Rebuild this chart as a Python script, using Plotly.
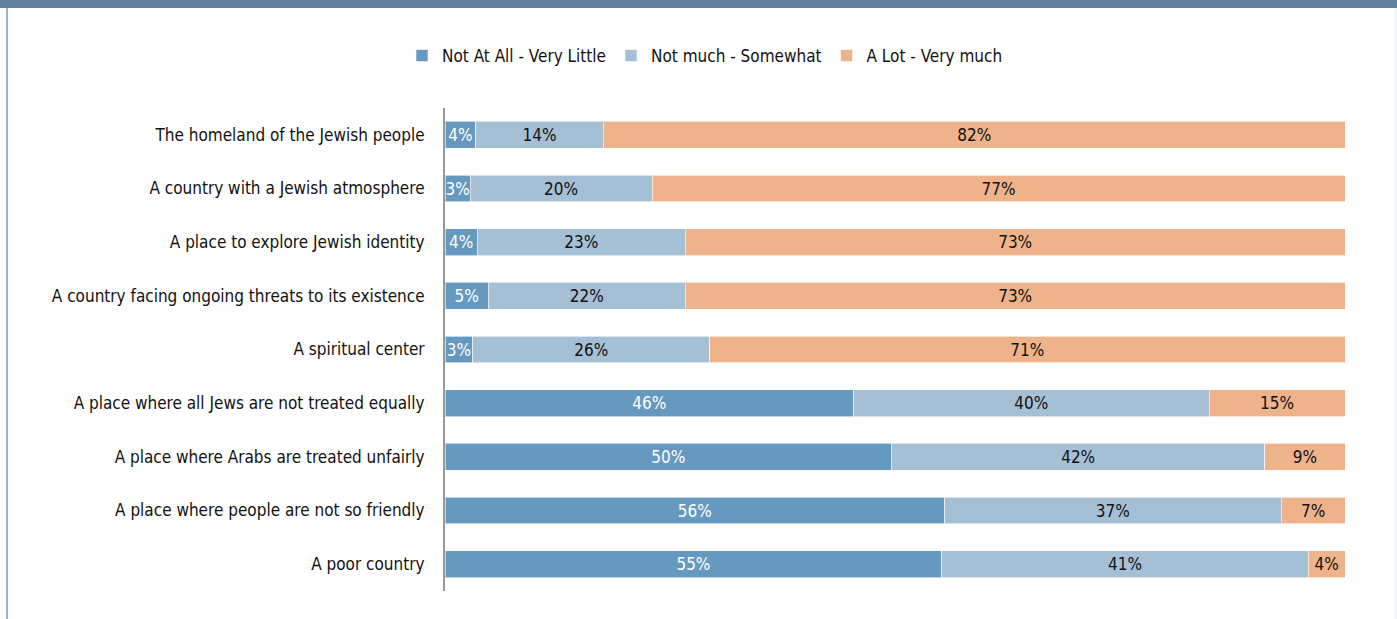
import plotly.graph_objects as go

categories = [
    "The homeland of the Jewish people",
    "A country with a Jewish atmosphere",
    "A place to explore Jewish identity",
    "A country facing ongoing threats to its existence",
    "A spiritual center",
    "A place where all Jews are not treated equally",
    "A place where Arabs are treated unfairly",
    "A place where people are not so friendly",
    "A poor country",
]
# bar lengths (share of each row, %)
not_at_all = [3.4, 2.8, 3.6, 4.8, 3.1, 45.4, 49.6, 55.5, 55.2]
not_much = [14.2, 20.2, 23.1, 21.9, 26.3, 39.5, 41.5, 37.4, 40.7]
a_lot = [82.4, 77.0, 73.3, 73.3, 70.6, 15.1, 8.9, 7.1, 4.1]
# printed labels
not_at_all_lbl = [4, 3, 4, 5, 3, 46, 50, 56, 55]
not_much_lbl = [14, 20, 23, 22, 26, 40, 42, 37, 41]
a_lot_lbl = [82, 77, 73, 73, 71, 15, 9, 7, 4]

series = [
    ("Not At All - Very Little", not_at_all, not_at_all_lbl, "#6699BF", "white"),
    ("Not much - Somewhat", not_much, not_much_lbl, "#A5BFD5", "#111111"),
    ("A Lot - Very much", a_lot, a_lot_lbl, "#EEB38A", "#111111"),
]

FONT = "DejaVu Sans Condensed, Liberation Sans Narrow, Arial Narrow, sans-serif"
FS = 17

fig = go.Figure()
for name, vals, lbls, color, tcolor in series:
    fig.add_trace(go.Bar(
        name=name, y=categories, x=vals, orientation="h",
        marker=dict(color=color, line=dict(color="rgba(255,255,255,0.6)", width=1)),
        text=[f"{v}%" for v in lbls], textposition="inside",
        insidetextanchor="middle", textangle=0,
        textfont=dict(color=tcolor, size=FS, family=FONT),
        width=0.5, hoverinfo="y+text",
    ))

W, H = 1397, 619
L, R, T, B = 445, 52, 108, 28
pw, ph = W - L - R, H - T - B

def px(p):
    return (p - L) / pw

def py(p):
    return (H - B - p) / ph

fig.update_layout(
    width=W, height=H,
    margin=dict(l=L, r=R, t=T, b=B),
    barmode="stack",
    paper_bgcolor="white", plot_bgcolor="white",
    font=dict(family=FONT, size=FS, color="#111111"),
    uniformtext=dict(minsize=FS, mode="show"),
    showlegend=True,
    legend=dict(orientation="h", x=px(402), xanchor="left", y=py(56), yanchor="middle",
                font=dict(size=FS, family=FONT, color="#111111"),
                traceorder="normal", itemwidth=30, bgcolor="rgba(0,0,0,0)"),
    xaxis=dict(range=[0, 100], visible=False, fixedrange=True),
    yaxis=dict(categoryorder="array", categoryarray=categories, autorange="reversed",
               showline=True, linecolor="#999999", linewidth=2, showgrid=False,
               ticks="", ticklabelstandoff=15, zeroline=False,
               tickfont=dict(size=FS, family=FONT, color="#111111")),
    shapes=[
        dict(type="rect", xref="paper", yref="paper", x0=px(0), x1=px(W), y0=py(8), y1=py(-2),
             fillcolor="#62809C", line=dict(width=0), layer="above"),
        dict(type="line", xref="paper", yref="paper", x0=px(7), x1=px(7), y0=py(8), y1=py(H + 2),
             line=dict(color="#9FB3C6", width=2)),
        dict(type="line", xref="paper", yref="paper", x0=px(1396), x1=px(1396), y0=py(8), y1=py(H + 2),
             line=dict(color="#E6ECF2", width=1)),
    ],
)

fig.write_html("out.html")
